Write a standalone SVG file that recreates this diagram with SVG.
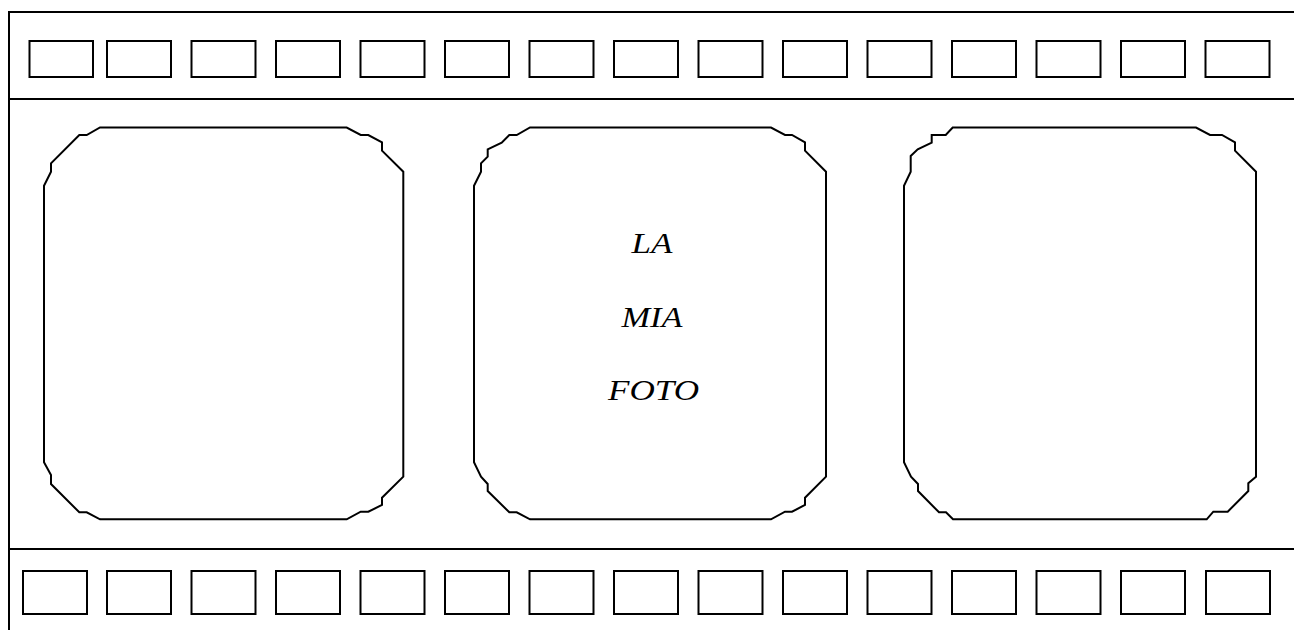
<svg xmlns="http://www.w3.org/2000/svg" width="1294" height="630" viewBox="0 0 1294 630">
<style>
.ln{fill:none;stroke:#000;stroke-width:2}
.sp{fill:#fff;stroke:#000;stroke-width:2}
.fr{fill:#fff;stroke:#000;stroke-width:2;stroke-linejoin:miter}
.tx{font-family:"Liberation Serif",serif;font-style:italic;font-size:30px;fill:#000;text-anchor:middle}
</style>
<rect width="1294" height="630" fill="#fff"/>
<g id="film">
<path class="ln" d="M9,630 V12 H1294 M9,99 H1294 M9,549 H1294"/>
</g>
<g id="sprockets-top">
<rect class="sp" x="29.5" y="41" width="63.5" height="36"/>
<rect class="sp" x="107" y="41" width="64" height="36"/>
<rect class="sp" x="191.5" y="41" width="64" height="36"/>
<rect class="sp" x="276" y="41" width="64" height="36"/>
<rect class="sp" x="360.5" y="41" width="64" height="36"/>
<rect class="sp" x="445" y="41" width="64" height="36"/>
<rect class="sp" x="529.5" y="41" width="64" height="36"/>
<rect class="sp" x="614" y="41" width="64" height="36"/>
<rect class="sp" x="698.5" y="41" width="64" height="36"/>
<rect class="sp" x="783" y="41" width="64" height="36"/>
<rect class="sp" x="867.5" y="41" width="64" height="36"/>
<rect class="sp" x="952" y="41" width="64" height="36"/>
<rect class="sp" x="1036.5" y="41" width="64" height="36"/>
<rect class="sp" x="1121" y="41" width="64" height="36"/>
<rect class="sp" x="1205.5" y="41" width="64" height="36"/>
</g>
<g id="sprockets-bottom">
<rect class="sp" x="23" y="571" width="64" height="43"/>
<rect class="sp" x="107" y="571" width="64" height="43"/>
<rect class="sp" x="191.5" y="571" width="64" height="43"/>
<rect class="sp" x="276" y="571" width="64" height="43"/>
<rect class="sp" x="360.5" y="571" width="64" height="43"/>
<rect class="sp" x="445" y="571" width="64" height="43"/>
<rect class="sp" x="529.5" y="571" width="64" height="43"/>
<rect class="sp" x="614" y="571" width="64" height="43"/>
<rect class="sp" x="698.5" y="571" width="64" height="43"/>
<rect class="sp" x="783" y="571" width="64" height="43"/>
<rect class="sp" x="867.5" y="571" width="64" height="43"/>
<rect class="sp" x="952" y="571" width="64" height="43"/>
<rect class="sp" x="1036.5" y="571" width="64" height="43"/>
<rect class="sp" x="1121" y="571" width="64" height="43"/>
<rect class="sp" x="1206" y="571" width="64" height="43"/>
</g>
<g id="frame-left">
<path class="fr" d="M100,127.5 H346.7 L360.7,135 H368.3 L382,142.3 V150.7 L403.3,171.7 V476.7 L382,497.7 V505 L368.3,511.7 H360.7 L346.7,519.3 H100 L86.7,512.3 H79.3 L51,484 V475 L44,462.3 V185.7 L51,171.7 V163.3 L79.3,135 H86.7 Z"/>
</g>
<g id="frame-middle">
<path class="fr" d="M530,127.5 H771 L785,135 H792 L805,142.3 V150.7 L826,171.7 V476.7 L805,497.7 V505 L792,511.7 H785 L771,519.3 H530 L516.7,512.3 H509.3 L487.7,491 V484 L481,476.7 L474,462.3 V185.7 L481,171.7 V163.3 L487.7,156.7 V149.3 L501.7,142.7 L509.3,135 H516.7 Z"/>
<text class="tx" x="652" y="253" textLength="41" lengthAdjust="spacingAndGlyphs">LA</text>
<text class="tx" x="652" y="327" textLength="61" lengthAdjust="spacingAndGlyphs">MIA</text>
<text class="tx" x="653.5" y="400" textLength="91" lengthAdjust="spacingAndGlyphs">FOTO</text>
</g>
<g id="frame-right">
<path class="fr" d="M952.7,127.5 H1196 L1210,135 H1222 L1235,142.3 V150.7 L1256,171.7 V476.7 L1248.3,483.3 V491 L1227.7,511.7 H1213.3 L1206.7,519.3 H953 L946,512.3 H939 L918,491 V484 L911,476.7 L904,462.3 V185.7 L910.7,171.7 V156 L917.7,149.3 L931.7,142.7 V135 H945.7 Z"/>
</g>
</svg>
